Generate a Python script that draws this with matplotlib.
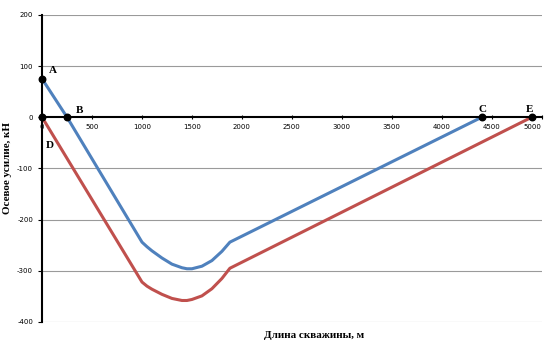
import matplotlib.pyplot as plt

plt.rcParams["axes.unicode_minus"] = False

# blue curve (A - B - C)
blue_x = [0, 250, 1000, 1050, 1100, 1200, 1300, 1400, 1450, 1500, 1600, 1700,
          1800, 1880, 4400]
blue_y = [75, 0, -244, -253, -261, -275, -287, -294, -296, -296, -291, -280,
          -262, -244, 0]
# red curve (D - E)
red_x = [0, 1000, 1050, 1100, 1200, 1300, 1400, 1450, 1500, 1600, 1700, 1800,
         1880, 4900]
red_y = [0, -322, -330, -336, -346, -354, -358, -358, -356, -349, -335, -315,
         -295, 0]

pt_names = ["A", "B", "C", "D", "E"]
pt_x = [0, 250, 4400, 0, 4900]
pt_y = [75, 0, 0, 0, 0]

xticks = [0, 500, 1000, 1500, 2000, 2500, 3000, 3500, 4000, 4500, 5000]
yticks = [-400, -300, -200, -100, 0, 100, 200]

fig = plt.figure(figsize=(5.47, 3.4), dpi=100)
ax = fig.add_axes([0.077, 0.053, 0.913, 0.903])

for y in yticks:
  if y != 0:
    ax.axhline(y, color="#9a9a9a", lw=0.8, zorder=0)

ax.plot(blue_x, blue_y, color="#4F81BD", lw=2.2, zorder=2)
ax.plot(red_x, red_y, color="#C0504D", lw=2.2, zorder=2)
ax.scatter(pt_x, pt_y, s=22, color="black", zorder=4, clip_on=False)

offsets = {"A": (5, 4), "B": (6, 3), "C": (-2, 4), "D": (3, -22), "E": (-4, 4)}
for n, x, y in zip(pt_names, pt_x, pt_y):
  dx, dy = offsets[n]
  ax.annotate(n, (x, y), xytext=(dx, dy), textcoords="offset points",
              fontsize=8, fontweight="bold", family="Liberation Serif")

ax.set_xlim(0, 5000)
ax.set_ylim(-400, 200)
ax.spines["top"].set_visible(False)
ax.spines["right"].set_visible(False)
ax.spines["bottom"].set_position(("data", 0))
ax.spines["bottom"].set_linewidth(1.5)
ax.spines["left"].set_linewidth(1.5)
ax.set_xticks(xticks)
ax.set_yticks(yticks)
ax.tick_params(axis="both", labelsize=5, length=3, color="black")
ax.tick_params(axis="x", direction="inout", pad=3)
ax.get_xticklabels()[-1].set_horizontalalignment("right")

ax.set_xlabel("Длина скважины, м", fontsize=8, fontweight="bold",
              family="Liberation Serif", labelpad=0)
ax.xaxis.set_label_coords(0.545, -0.03)
ax.set_ylabel("Осевое усилие, кН", fontsize=8, fontweight="bold",
              family="Liberation Serif")
ax.yaxis.set_label_coords(-0.06, 0.5)

plt.savefig("out.png", dpi=100)
